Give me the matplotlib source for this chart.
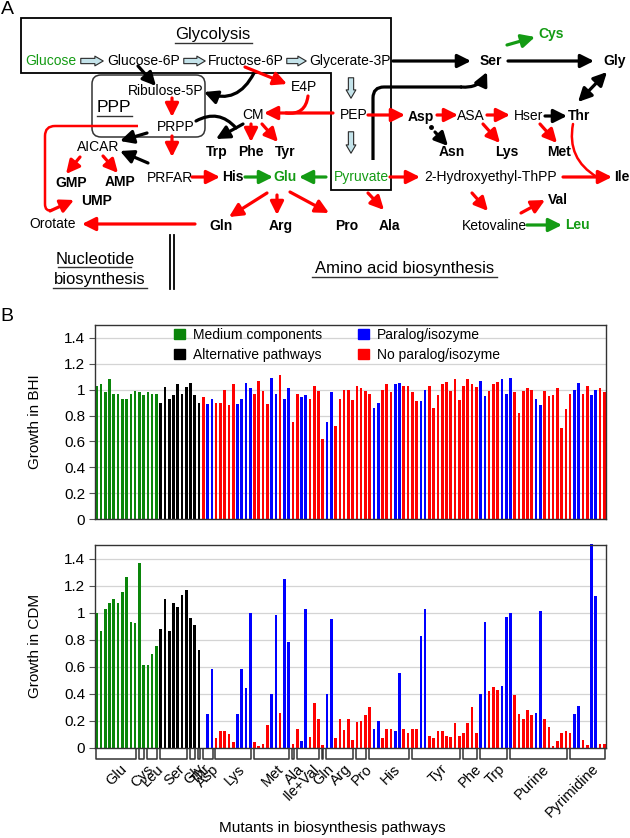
import numpy as np
import matplotlib.pyplot as plt
from matplotlib.path import Path
from matplotlib.patches import PathPatch, FancyBboxPatch, FancyArrowPatch, Polygon, Patch
from matplotlib.ticker import FuncFormatter
from matplotlib.transforms import blended_transform_factory

plt.rcParams['font.family'] = ['Liberation Sans', 'DejaVu Sans']

# ---- data for panel B ----
# G: medium components, K: alternative pathways, B: paralog/isozyme, R: no paralog/isozyme
bar_type = ("GGGGGGGGGGGGGGG"
            "KKKKKKKKKK"
            "RBBRRRRRBBBB"
            "RRRRBBRBBRRBB"
            "RRRRBBRRRR"
            "RRRRRBBRRR"
            "BBRRRRBBRR"
            "RRRRRRRRRR"
            "BBRRRBBBRR"
            "RRRBBRRRRR"
            "RRBBRRBBRR")

growth_bhi = [1.03, 1.04, 0.98, 1.08, 0.97, 0.97, 0.93, 0.93, 0.97, 0.99, 0.98, 0.96, 0.98, 0.97, 0.97,
              0.90, 1.02, 0.93, 0.96, 1.04, 0.97, 1.02, 1.05, 0.96, 0.90,
              0.94, 0.89, 0.93, 0.90, 0.90, 1.00, 0.88, 1.04, 0.89, 0.93, 1.05, 1.01,
              0.97, 1.07, 0.99, 0.89, 1.09, 0.97, 1.11, 0.93, 1.01, 0.75, 0.97, 0.94, 0.96,
              0.93, 1.03, 0.99, 0.62, 0.75, 0.98, 0.72, 0.93, 1.00, 1.00,
              0.92, 1.03, 1.01, 0.99, 0.97, 0.86, 0.90, 1.00, 1.04, 0.98,
              1.04, 1.05, 1.03, 1.03, 0.98, 0.91, 0.91, 1.00, 1.03, 0.86,
              0.96, 1.04, 1.06, 0.99, 1.08, 0.92, 1.03, 1.08, 1.04, 1.02,
              1.07, 0.95, 0.99, 1.04, 1.06, 1.08, 0.97, 1.09, 0.98, 0.82,
              0.99, 1.01, 1.00, 0.93, 0.88, 0.99, 0.95, 0.96, 1.01, 0.70,
              0.85, 0.97, 1.00, 1.05, 0.97, 1.03, 0.96, 1.00, 1.01, 0.98]

growth_cdm = [1.00, 0.86, 1.03, 1.07, 1.10, 1.07, 1.15, 1.26, 0.93, 0.92, 1.37, 0.61, 0.61, 0.69, 0.75,
              0.88, 1.10, 0.86, 1.07, 1.04, 1.13, 1.17, 0.96, 0.91, 0.72,
              0.00, 0.25, 0.58, 0.07, 0.12, 0.12, 0.10, 0.04, 0.25, 0.58, 0.44, 1.00,
              0.04, 0.01, 0.03, 0.17, 0.40, 0.98, 0.26, 1.25, 0.78, 0.03, 0.14, 0.05, 1.03,
              0.08, 0.33, 0.21, 0.02, 0.40, 0.95, 0.07, 0.21, 0.13, 0.21,
              0.06, 0.19, 0.20, 0.24, 0.30, 0.14, 0.20, 0.07, 0.14, 0.14,
              0.12, 0.55, 0.14, 0.11, 0.14, 0.14, 0.83, 1.03, 0.09, 0.07,
              0.12, 0.12, 0.09, 0.08, 0.18, 0.09, 0.11, 0.18, 0.30, 0.11,
              0.40, 0.93, 0.42, 0.45, 0.43, 0.46, 0.97, 1.00, 0.39, 0.25,
              0.21, 0.28, 0.24, 0.26, 1.01, 0.21, 0.15, 0.01, 0.05, 0.11,
              0.12, 0.11, 0.25, 0.31, 0.06, 0.02, 1.51, 1.12, 0.03, 0.03]

group_names = ["Glu", "Cys", "Leu", "Ser", "Gly", "Thr", "Asp", "Lys", "Met", "Ala",
               "Ile+Val", "Gln", "Arg", "Pro", "His", "Tyr", "Phe", "Trp", "Purine", "Pyrimidine"]
group_sizes = [10, 2, 3, 7, 2, 1, 3, 9, 9, 1, 6, 1, 7, 3, 10, 12, 4, 7, 14, 9]

type_names = {"G": "Medium components", "K": "Alternative pathways",
              "B": "Paralog/isozyme", "R": "No paralog/isozyme"}
type_colors = {"G": "#0a850a", "K": "#000000", "B": "#0000ff", "R": "#ff0000"}

RED = '#ff0000'
BLK = '#000000'
GRN = '#149b14'

fig = plt.figure(figsize=(6.3, 8.38), dpi=100)

# ---- panel A: pathway diagram, drawn in pixel coordinates ----
ax0 = fig.add_axes([0, 0, 1, 1])
ax0.set_xlim(0, 630)
ax0.set_ylim(838, 0)
ax0.axis('off')


def lab(x, y, s, color=BLK, bold=False, size=10, ha='center'):
    ax0.text(x, y, s, ha=ha, va='center', color=color, fontsize=size,
             fontweight='bold' if bold else 'normal')


def arrow(x1, y1, x2, y2, color, rad=0.0, style='-|>', lw=2.3):
    ax0.annotate('', xy=(x2, y2), xytext=(x1, y1),
                 arrowprops=dict(arrowstyle=style + ',head_length=0.8,head_width=0.4',
                                 color=color, lw=lw, shrinkA=0, shrinkB=0, mutation_scale=10,
                                 connectionstyle='arc3,rad=%s' % rad))


def curve(x1, y1, x2, y2, color, rad, lw=2.3):
    ax0.annotate('', xy=(x2, y2), xytext=(x1, y1),
                 arrowprops=dict(arrowstyle='-', color=color, lw=lw, shrinkA=0, shrinkB=0,
                                 connectionstyle='arc3,rad=%s' % rad))


def block(x1, y1, x2, y2):
    ax0.add_patch(FancyArrowPatch((x1, y1), (x2, y2), mutation_scale=10,
                                  arrowstyle='simple,head_length=0.6,head_width=0.7,tail_width=0.38',
                                  fc='#c4e3ea', ec='#2a2a2a', lw=0.8))


ax0.text(7, 10, 'A', fontsize=14, ha='center', va='center')
ax0.text(7, 316, 'B', fontsize=14, ha='center', va='center')

# boxes
ax0.add_patch(Polygon([(21, 18), (391, 18), (391, 190), (331, 190), (331, 73), (21, 73)],
                      closed=True, fill=False, ec=BLK, lw=1.3))
ax0.add_patch(FancyBboxPatch((92, 75), 113, 62, boxstyle='round,pad=0,rounding_size=9',
                             fill=False, ec='#333333', lw=1.1))

# titles
lab(213, 35, 'Glycolysis', size=12)
ax0.plot([175, 252], [43, 43], color='#333333', lw=1)
lab(114, 107, 'PPP', size=12.5)
ax0.plot([97, 132], [116, 116], color='#333333', lw=1)
lab(405, 268, 'Amino acid biosynthesis', size=12)
ax0.plot([312, 497], [277, 277], color='#333333', lw=1)
lab(95, 259, 'Nucleotide', size=12)
ax0.plot([58, 131], [267, 267], color='#333333', lw=1)
lab(100, 279, 'biosynthesis', size=12)
ax0.plot([53, 147], [288, 288], color='#333333', lw=1)
ax0.plot([170, 170], [235, 289], color=BLK, lw=1.3)
ax0.plot([174, 174], [235, 289], color=BLK, lw=1.3)

# metabolites
lab(51, 61, 'Glucose', color=GRN)
lab(144, 61, 'Glucose-6P')
lab(246, 61, 'Fructose-6P')
lab(350, 61, 'Glycerate-3P')
lab(166, 91, 'Ribulose-5P')
lab(176, 127, 'PRPP')
lab(304, 87, 'E4P')
lab(253, 115, 'CM')
lab(217, 152, 'Trp', bold=True)
lab(251, 152, 'Phe', bold=True)
lab(285, 152, 'Tyr', bold=True)
lab(98, 147, 'AICAR')
lab(170, 178, 'PRFAR')
lab(71, 183, 'GMP', bold=True)
lab(120, 182, 'AMP', bold=True)
lab(97, 201, 'UMP', bold=True)
lab(233, 177, 'His', bold=True)
lab(285, 177, 'Glu', color=GRN, bold=True)
lab(53, 224, 'Orotate')
lab(221, 226, 'Gln', bold=True)
lab(281, 226, 'Arg', bold=True)
lab(347, 226, 'Pro', bold=True)
lab(389, 226, 'Ala', bold=True)
lab(354, 115, 'PEP')
lab(361, 177, 'Pyruvate', color=GRN)
lab(491, 61, 'Ser', bold=True)
lab(615, 61, 'Gly', bold=True)
lab(551, 34, 'Cys', color=GRN, bold=True)
lab(421, 117, 'Asp', bold=True)
lab(471, 116, 'ASA')
lab(529, 116, 'Hser')
lab(579, 116, 'Thr', bold=True)
lab(452, 152, 'Asn', bold=True)
lab(507, 152, 'Lys', bold=True)
lab(559, 152, 'Met', bold=True)
lab(491, 177, '2-Hydroxyethyl-ThPP')
lab(614, 177, 'Ile', bold=True, ha='left')
lab(494, 226, 'Ketovaline')
lab(558, 200, 'Val', bold=True)
lab(577, 225, 'Leu', color=GRN, bold=True)

# glycolysis block arrows
block(78, 61, 106, 61)
block(181, 61, 208, 61)
block(284, 61, 309, 61)
block(351, 75, 351, 101)
block(351, 129, 351, 156)

# black arrows
arrow(138, 66, 156, 86, BLK)
arrow(254, 73, 204, 92, BLK, rad=-0.45)
arrow(147, 133, 120, 141, BLK)
arrow(148, 163, 120, 151, BLK)
curve(196, 121, 236, 128, BLK, rad=-0.4)
arrow(243, 124, 216, 139, BLK)
arrow(393, 61, 471, 61, BLK)
arrow(508, 61, 594, 61, BLK)
arrow(607, 72, 578, 102, BLK, style='<|-|>')
arrow(545, 116, 567, 116, BLK)
ax0.plot([431], [127], 'o', color=BLK, ms=2.5)
arrow(435, 132, 448, 146, BLK)
pyr_ser = Path([(373, 160), (373, 98), (373, 87), (384, 87), (462, 87)],
               [Path.MOVETO, Path.LINETO, Path.CURVE3, Path.CURVE3, Path.LINETO])
ax0.add_patch(PathPatch(pyr_ser, fill=False, ec=BLK, lw=2.3))
arrow(461, 87, 487, 72, BLK, rad=0.35)

# red arrows
arrow(245, 67, 287, 84, RED)
arrow(172, 98, 172, 117, RED)
arrow(172, 136, 172, 157, RED)
curve(308, 96, 286, 113, RED, rad=-0.5)
arrow(333, 113, 264, 113, RED)
arrow(251, 124, 251, 142, RED)
arrow(262, 124, 278, 142, RED)
arrow(80, 157, 66, 174, RED)
arrow(103, 156, 118, 173, RED)
arrow(192, 177, 220, 177, RED)
arrow(368, 115, 405, 115, RED)
arrow(437, 115, 458, 115, RED)
arrow(483, 124, 500, 143, RED)
arrow(487, 115, 510, 115, RED)
arrow(540, 124, 557, 143, RED)
arrow(390, 177, 420, 177, RED)
arrow(563, 177, 612, 177, RED)
curve(573, 124, 597, 177, RED, rad=0.35, lw=1.8)
arrow(472, 193, 488, 211, RED)
arrow(521, 213, 545, 200, RED)
arrow(267, 193, 229, 217, RED)
arrow(277, 195, 277, 215, RED)
arrow(290, 192, 329, 213, RED)
arrow(368, 193, 384, 210, RED)
arrow(195, 224, 82, 224, RED)
nuc = Path([(138, 126), (55, 126), (45, 126), (45, 136), (45, 204), (45, 212), (52, 210)],
           [Path.MOVETO, Path.LINETO, Path.CURVE3, Path.CURVE3, Path.LINETO, Path.CURVE3, Path.CURVE3])
ax0.add_patch(PathPatch(nuc, fill=False, ec=RED, lw=1.8))
arrow(50, 211, 74, 200, RED)

# green arrows
arrow(245, 177, 273, 177, GRN)
arrow(326, 177, 299, 177, GRN)
arrow(507, 45, 535, 37, GRN)
arrow(527, 225, 562, 225, GRN)

# ---- panel B: bar charts ----
x = np.arange(len(growth_bhi))
colors = [type_colors[t] for t in bar_type]


def style_axes(ax, ylabel):
    ax.set_xlim(-0.4, len(x) - 0.6)
    ax.set_ylim(0, 1.5)
    ax.set_yticks(np.arange(0, 1.41, 0.2))
    ax.yaxis.set_major_formatter(FuncFormatter(lambda v, p: '%g' % round(v, 1)))
    ax.set_xticks([])
    ax.grid(axis='y', color='#d4d4d4', lw=0.9)
    ax.set_axisbelow(True)
    ax.tick_params(axis='y', direction='out', length=4, width=0.8, color='#555555',
                   labelsize=11, pad=3)
    for sp in ax.spines.values():
        sp.set_color('#333333')
        sp.set_linewidth(1.0)
    ax.set_ylabel(ylabel, fontsize=11)
    ax.yaxis.set_label_coords(-0.104, 0.5)


ax1 = fig.add_axes([95 / 630, 1 - 519 / 838, 511 / 630, 194 / 838])
ax1.bar(x, growth_bhi, width=0.62, color=colors, zorder=2)
style_axes(ax1, 'Growth in BHI')
handles = [Patch(color=type_colors[k], label=type_names[k]) for k in "GKBR"]
ax1.legend(handles=handles, ncol=2, loc='upper left', bbox_to_anchor=(0.15, 1.0),
           frameon=False, fontsize=10, handlelength=0.75, handleheight=0.75,
           handletextpad=0.6, columnspacing=2.6, labelspacing=0.45,
           borderaxespad=0, borderpad=0.2)

ax2 = fig.add_axes([95 / 630, 1 - 747.7 / 838, 511 / 630, 202.7 / 838])
ax2.bar(x, growth_cdm, width=0.62, color=colors, zorder=2, clip_on=False)
style_axes(ax2, 'Growth in CDM')

trans = blended_transform_factory(ax2.transData, ax2.transAxes)
start = 0
for name, n in zip(group_names, group_sizes):
    s, e = start - 0.15, start + n - 1 + 0.15
    ax2.plot([s, s, e, e], [-0.008, -0.055, -0.055, -0.008], color='#333333', lw=1.1,
             transform=trans, clip_on=False)
    cx = start + (n - 1) / 2
    ax2.text(cx + 1.0, -0.07, name, rotation=45, ha='right', va='top',
             rotation_mode='anchor', transform=trans, fontsize=10.5)
    start += n

fig.text(332 / 630, 1 - 828 / 838, 'Mutants in biosynthesis pathways',
         ha='center', va='center', fontsize=11)

fig.savefig('out.png', dpi=100)
